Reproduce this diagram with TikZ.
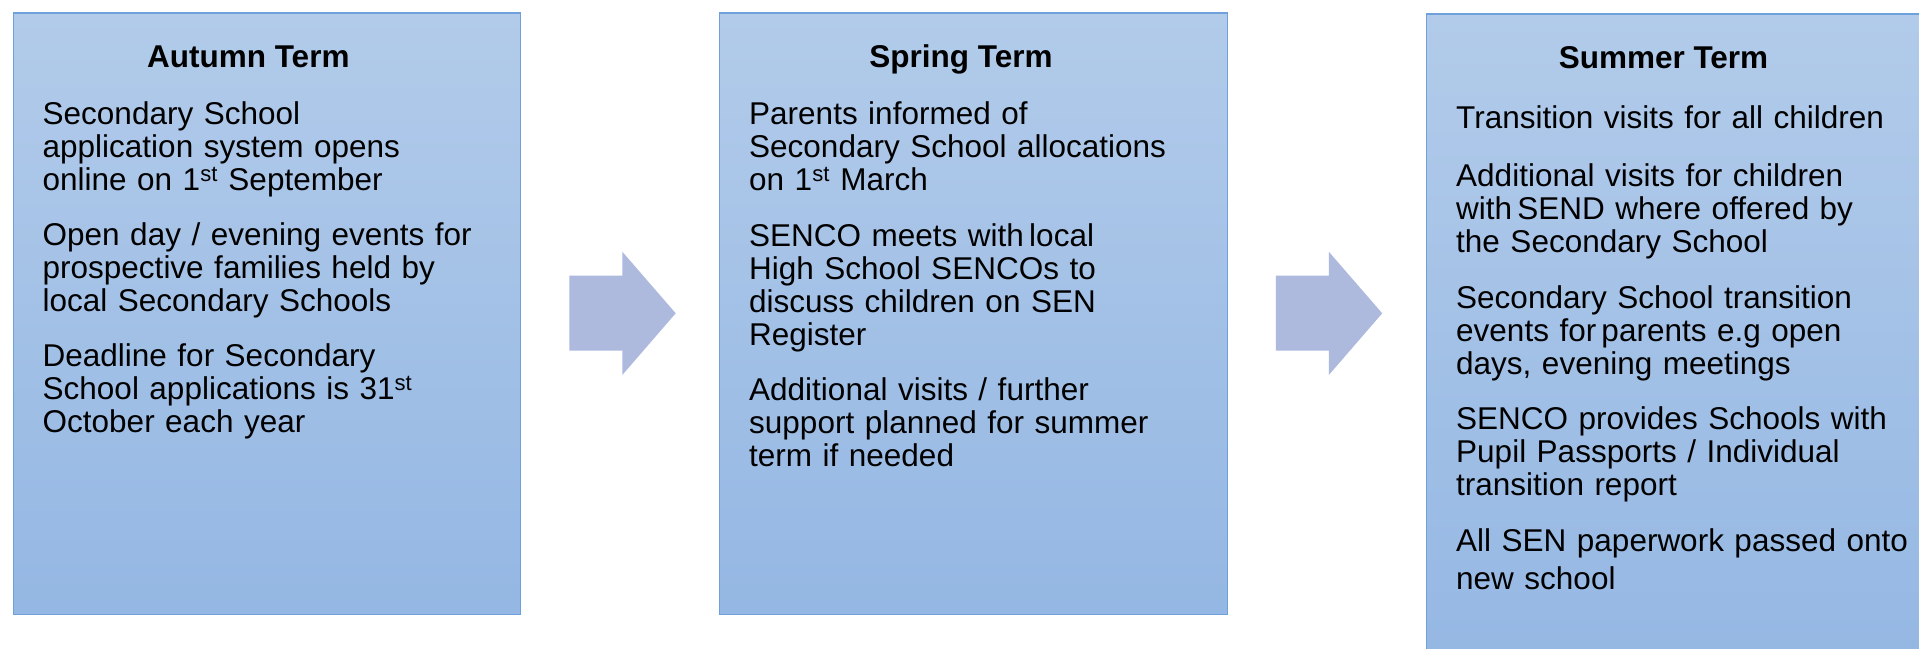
\documentclass[tikz,border=0pt]{standalone}
\usepackage{fontspec}
\setmainfont{Liberation Sans}
\definecolor{boxtop}{HTML}{B2CBEA}
\definecolor{boxbot}{HTML}{94B7E3}
\definecolor{boxline}{HTML}{6EA1DC}
\definecolor{arrowfill}{HTML}{AEB9DE}
\lineskiplimit=-60pt
\begin{document}
\begin{tikzpicture}[x=1pt,y=-1pt,
  termbox/.style={rectangle, draw=boxline, line width=1.3pt, top color=boxtop, bottom color=boxbot, anchor=north west, inner sep=0pt},
  ttl/.style={font=\bfseries\fontsize{31.5}{33}\selectfont, anchor=base, inner sep=0pt},
  para/.style={font=\fontsize{31.5}{33}\selectfont, anchor=base west, inner sep=0pt, text width=480pt, align=left},
  blockarrow/.style={fill=arrowfill, draw=none}]
\useasboundingbox (0,0) rectangle (1919,648);

% boxes
\node[termbox, minimum width=507.4pt, minimum height=601.3pt] (autumn) at (12.6,12.4) {};
\node[termbox, minimum width=508pt, minimum height=601.3pt] (spring) at (718.5,12.2) {};
\node[termbox, minimum width=520pt, minimum height=660pt] (summer) at (1425.8,13.2) {};

% block arrows
\fill[blockarrow] (569.3,275.7) -- (622.3,275.7) -- (622.3,251.7) -- (675.7,313.3) -- (622.3,375) -- (622.3,350.7) -- (569.3,350.7) -- cycle;
\fill[blockarrow] (1275.8,275.7) -- (1328.8,275.7) -- (1328.8,251.7) -- (1382.2,313.3) -- (1328.8,375) -- (1328.8,350.7) -- (1275.8,350.7) -- cycle;

% titles
\node[ttl] (autumnT) at (248.3,67.7) {Autumn Term};
\node[ttl] (springT) at (961,67.7) {Spring Term};
\node[ttl] (summerT) at (1663.5,68.5) {Summer Term};

% autumn
\node[para] (a1) at (42.5,124.5) {Secondary School\\application system opens\\online on 1\textsuperscript{st} September};
\node[para] (a2) at (42.5,245.5) {Open day / evening events for\\prospective families held by\\local Secondary Schools};
\node[para] (a3) at (42.5,366.5) {Deadline for Secondary\\School applications is 31\textsuperscript{st}\\October each year};

% spring
\node[para] (s1) at (749,124.5) {Parents informed of\\Secondary School allocations\\on 1\textsuperscript{st} March};
\node[para] (s2) at (749,246) {SENCO meets with\,local\\High School SENCOs to\\discuss children on SEN\\Register};
\node[para] (s3) at (749,400) {Additional visits / further\\support planned for summer\\term if needed};

% summer
\node[para] (u1) at (1456,128.5) {Transition visits for all children};
\node[para] (u2) at (1456,186) {Additional visits for children\\with\,SEND where offered by\\the Secondary School};
\node[para] (u3) at (1456,308) {Secondary School transition\\events for\,parents e.g open\\days, evening meetings};
\node[para] (u4) at (1456,429.5) {SENCO provides Schools with\\Pupil Passports / Individual\\transition report};
\node[para] (u5) at (1456,551.7) {All SEN paperwork passed onto\\[4.6pt]new school};
\end{tikzpicture}
\end{document}
